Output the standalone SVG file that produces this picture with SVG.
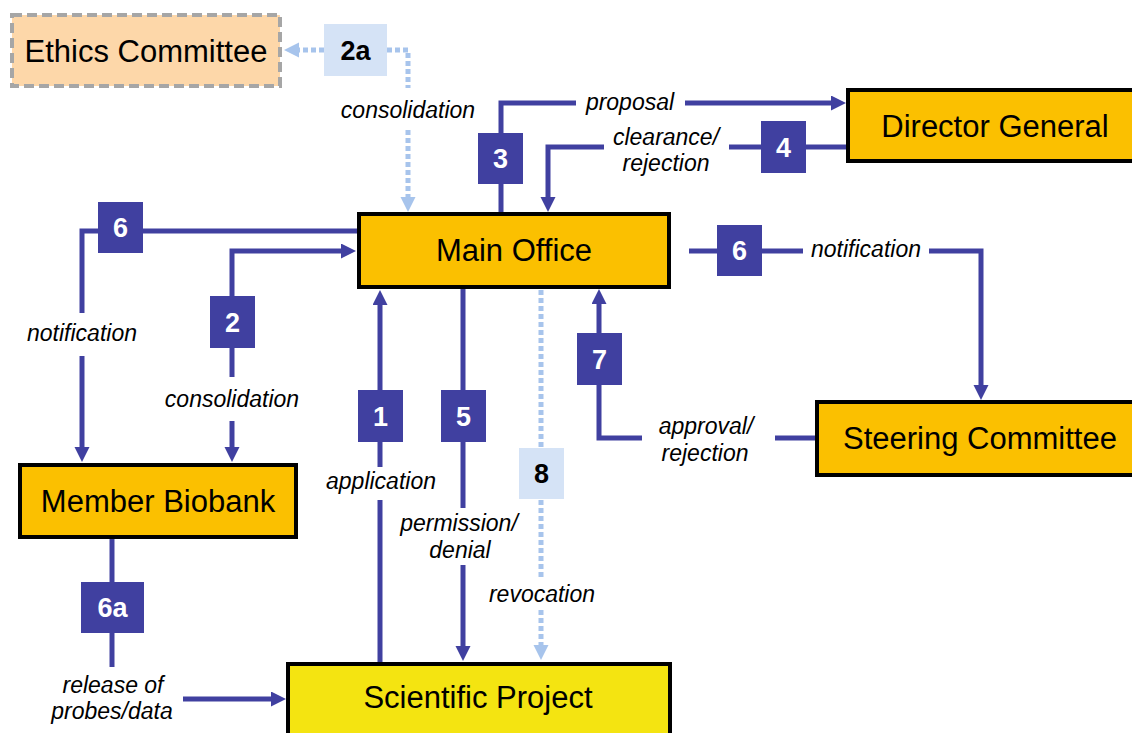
<svg xmlns="http://www.w3.org/2000/svg" width="1132" height="733" viewBox="0 0 1132 733">
<style>
.node{stroke:#000;stroke-width:4}
.org{fill:#FBC000}
.yel{fill:#F4E411}
.eth{fill:#FDD7A9;stroke:#A6A6A6;stroke-width:4;stroke-dasharray:10 5}
.nt{font-family:"Liberation Sans",Arial,sans-serif;font-size:31px;fill:#000;text-anchor:middle}
.lb{font-family:"Liberation Sans",Arial,sans-serif;font-size:23px;font-style:italic;fill:#000;text-anchor:middle}
.bd{fill:#4040A0}
.bdl{fill:#D5E3F6}
.bt{font-family:"Liberation Sans",Arial,sans-serif;font-size:27px;font-weight:bold;fill:#fff;text-anchor:middle}
.btl{font-family:"Liberation Sans",Arial,sans-serif;font-size:27px;font-weight:bold;fill:#000;text-anchor:middle}
.ln{fill:none;stroke:#4040A0;stroke-width:5}
.dl{fill:none;stroke:#A7C4EC;stroke-width:5;stroke-dasharray:5 3}
</style>
<defs>
<marker id="ah" markerUnits="userSpaceOnUse" markerWidth="16" markerHeight="16" refX="7" refY="7.5" orient="auto"><path d="M0,0 L15,7.5 L0,15 z" fill="#4040A0"/></marker>
<marker id="ahl" markerUnits="userSpaceOnUse" markerWidth="16" markerHeight="16" refX="7" refY="7.5" orient="auto"><path d="M0,0 L15,7.5 L0,15 z" fill="#A7C4EC"/></marker>
</defs>
<rect width="1132" height="733" fill="#fff"/>
<g id="connectors">
<path class="dl" d="M387,50 H408 V88"/>
<path class="dl" d="M408,130 V204" marker-end="url(#ahl)"/>
<path class="dl" d="M324,50 H292" marker-end="url(#ahl)"/>
<path class="dl" d="M541,290 V448"/>
<path class="dl" d="M541,500 V579"/>
<path class="dl" d="M541,610 V652" marker-end="url(#ahl)"/>
<path class="ln" d="M501,212 V103 H576"/>
<path class="ln" d="M685,103 H838" marker-end="url(#ah)"/>
<path class="ln" d="M846,147 H729"/>
<path class="ln" d="M604,147 H548 V204" marker-end="url(#ah)"/>
<path class="ln" d="M357,231 H82 V313"/>
<path class="ln" d="M82,356 V454" marker-end="url(#ah)"/>
<path class="ln" d="M232,377 V251 H348" marker-end="url(#ah)"/>
<path class="ln" d="M232,421 V454" marker-end="url(#ah)"/>
<path class="ln" d="M689,251 H803"/>
<path class="ln" d="M929,251 H981 V392" marker-end="url(#ah)"/>
<path class="ln" d="M815,438 H775"/>
<path class="ln" d="M642,438 H599 V297" marker-end="url(#ah)"/>
<path class="ln" d="M463,289 V508"/>
<path class="ln" d="M463,565 V653" marker-end="url(#ah)"/>
<path class="ln" d="M380,662 V500"/>
<path class="ln" d="M380,467 V298" marker-end="url(#ah)"/>
<path class="ln" d="M112,539 V667"/>
<path class="ln" d="M183,699 H278" marker-end="url(#ah)"/>
<text class="lb" x="408" y="118">consolidation</text>
<text class="lb" x="630" y="110">proposal</text>
<text class="lb" x="666" y="145">clearance/</text>
<text class="lb" x="666" y="171">rejection</text>
<text class="lb" x="866" y="257">notification</text>
<text class="lb" x="82" y="341">notification</text>
<text class="lb" x="232" y="407">consolidation</text>
<text class="lb" x="381" y="489">application</text>
<text class="lb" x="706" y="434">approval/</text>
<text class="lb" x="705" y="461">rejection</text>
<text class="lb" x="459" y="531">permission/</text>
<text class="lb" x="460" y="558">denial</text>
<text class="lb" x="542" y="602">revocation</text>
<text class="lb" x="113" y="693">release of</text>
<text class="lb" x="112" y="719">probes/data</text>
</g>
<g id="badge-2a"><rect class="bdl" x="324" y="24" width="63" height="52"/><text class="btl" x="355.5" y="60">2a</text></g>
<g id="badge-3"><rect class="bd" x="478" y="133" width="45" height="51"/><text class="bt" x="500.5" y="168">3</text></g>
<g id="badge-4"><rect class="bd" x="761" y="121" width="45" height="52"/><text class="bt" x="783.5" y="157">4</text></g>
<g id="badge-6l"><rect class="bd" x="98" y="202" width="45" height="51"/><text class="bt" x="120.5" y="237">6</text></g>
<g id="badge-6r"><rect class="bd" x="717" y="225" width="45" height="51"/><text class="bt" x="739.5" y="260">6</text></g>
<g id="badge-2"><rect class="bd" x="210" y="296" width="45" height="52"/><text class="bt" x="232.5" y="332">2</text></g>
<g id="badge-7"><rect class="bd" x="577" y="333" width="45" height="52"/><text class="bt" x="599.5" y="369">7</text></g>
<g id="badge-1"><rect class="bd" x="358" y="390" width="45" height="52"/><text class="bt" x="380.5" y="426">1</text></g>
<g id="badge-5"><rect class="bd" x="441" y="390" width="45" height="52"/><text class="bt" x="463.5" y="426">5</text></g>
<g id="badge-8"><rect class="bdl" x="519" y="448" width="45" height="51"/><text class="btl" x="541.5" y="483">8</text></g>
<g id="badge-6a"><rect class="bd" x="81" y="582" width="63" height="51"/><text class="bt" x="112.5" y="617">6a</text></g>
<g id="ethics-committee"><rect class="eth" x="12" y="15" width="268" height="71"/><text class="nt" x="146" y="62">Ethics Committee</text></g>
<g id="director-general"><rect class="node org" x="848" y="90" width="300" height="71"/><text class="nt" x="995" y="137">Director General</text></g>
<g id="main-office"><rect class="node org" x="359" y="214" width="310" height="73"/><text class="nt" x="514" y="261">Main Office</text></g>
<g id="steering-committee"><rect class="node org" x="817" y="402" width="330" height="73"/><text class="nt" x="980" y="449">Steering Committee</text></g>
<g id="member-biobank"><rect class="node org" x="20" y="465" width="276" height="72"/><text class="nt" x="158" y="512">Member Biobank</text></g>
<g id="scientific-project"><rect class="node yel" x="288" y="664" width="382" height="80"/><text class="nt" x="478" y="708">Scientific Project</text></g>
</svg>
